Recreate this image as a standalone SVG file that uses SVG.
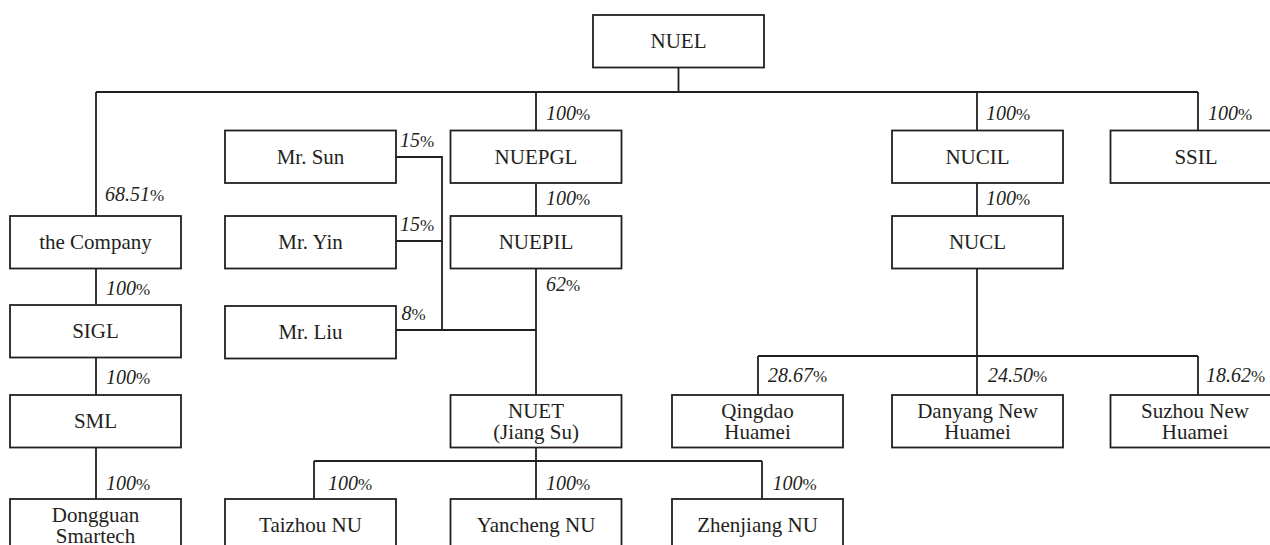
<svg xmlns="http://www.w3.org/2000/svg" width="1270" height="545" viewBox="0 0 1270 545">
<style>
.box{fill:#fff;stroke:#231f20;stroke-width:1.8}
.t{font-family:'Liberation Serif','Tinos','DejaVu Serif',serif;font-size:21px;fill:#231f20;text-anchor:middle}
.lbl{font-family:'Liberation Serif','Tinos','DejaVu Serif',serif;font-size:20px;font-style:italic;fill:#231f20}
.p{font-size:17px;font-style:normal}
#connectors path{fill:none;stroke:#231f20;stroke-width:1.8}
</style>
<rect width="1270" height="545" fill="#fff"/>
<g id="connectors">
<path d="M678.5,67V92M96,92H1198M96,92V216M536,92V130.5M977,92V130.5M1198,92V130.5"/>
<path d="M536,183V216M977,183V216"/>
<path d="M96,268.5V305M96,357.5V395M96,447.5V499"/>
<path d="M396,157H442V330M396,241H442M396,330H536"/>
<path d="M536,268.5V395M536,447.5V499M314,461H762M314,461V499M762,461V499"/>
<path d="M977,268.5V395M758,356H1198M758,356V395M1198,356V395"/>
</g>
<g id="NUEL"><rect class="box" x="593" y="15" width="171" height="52.5"/><text class="t" x="678.5" y="48">NUEL</text></g>
<g id="the-company"><rect class="box" x="10" y="216" width="171" height="52.5"/><text class="t" x="95.5" y="249">the Company</text></g>
<g id="mr-sun"><rect class="box" x="225" y="130.5" width="171" height="52.5"/><text class="t" x="310.5" y="163.5">Mr. Sun</text></g>
<g id="NUEPGL"><rect class="box" x="450.5" y="130.5" width="171" height="52.5"/><text class="t" x="536" y="163.5">NUEPGL</text></g>
<g id="NUCIL"><rect class="box" x="892" y="130.5" width="171" height="52.5"/><text class="t" x="977.5" y="163.5">NUCIL</text></g>
<g id="SSIL"><rect class="box" x="1110.5" y="130.5" width="171" height="52.5"/><text class="t" x="1196" y="163.5">SSIL</text></g>
<g id="mr-yin"><rect class="box" x="225" y="216" width="171" height="52.5"/><text class="t" x="310.5" y="249">Mr. Yin</text></g>
<g id="NUEPIL"><rect class="box" x="450.5" y="216" width="171" height="52.5"/><text class="t" x="536" y="249">NUEPIL</text></g>
<g id="NUCL"><rect class="box" x="892" y="216" width="171" height="52.5"/><text class="t" x="977.5" y="249">NUCL</text></g>
<g id="SIGL"><rect class="box" x="10" y="305" width="171" height="52.5"/><text class="t" x="95.5" y="338">SIGL</text></g>
<g id="mr-liu"><rect class="box" x="225" y="306" width="171" height="52.5"/><text class="t" x="310.5" y="339">Mr. Liu</text></g>
<g id="SML"><rect class="box" x="10" y="395" width="171" height="52.5"/><text class="t" x="95.5" y="428">SML</text></g>
<g id="NUET"><rect class="box" x="450.5" y="395" width="171" height="52.5"/><text class="t" x="536" y="417.7">NUET</text><text class="t" x="536" y="439.3">(Jiang Su)</text></g>
<g id="qingdao-huamei"><rect class="box" x="672" y="395" width="171" height="52.5"/><text class="t" x="757.5" y="417.7">Qingdao</text><text class="t" x="757.5" y="439.3">Huamei</text></g>
<g id="danyang-new-huamei"><rect class="box" x="892" y="395" width="171" height="52.5"/><text class="t" x="977.5" y="417.7">Danyang New</text><text class="t" x="977.5" y="439.3">Huamei</text></g>
<g id="suzhou-new-huamei"><rect class="box" x="1110.5" y="395" width="171" height="52.5"/><text class="t" x="1195" y="417.7">Suzhou New</text><text class="t" x="1195" y="439.3">Huamei</text></g>
<g id="dongguan-smartech"><rect class="box" x="10" y="499" width="171" height="52.5"/><text class="t" x="95.5" y="522">Dongguan</text><text class="t" x="95.5" y="542.5">Smartech</text></g>
<g id="taizhou-nu"><rect class="box" x="225" y="499" width="171" height="52.5"/><text class="t" x="310.5" y="532">Taizhou NU</text></g>
<g id="yancheng-nu"><rect class="box" x="450.5" y="499" width="171" height="52.5"/><text class="t" x="536" y="532">Yancheng NU</text></g>
<g id="zhenjiang-nu"><rect class="box" x="672" y="499" width="171" height="52.5"/><text class="t" x="757.5" y="532">Zhenjiang NU</text></g>
<g id="labels">
<text class="lbl" x="105" y="200.5">68.51<tspan class="p">%</tspan></text>
<text class="lbl" x="546" y="120">100<tspan class="p">%</tspan></text>
<text class="lbl" x="986" y="120">100<tspan class="p">%</tspan></text>
<text class="lbl" x="1208" y="120">100<tspan class="p">%</tspan></text>
<text class="lbl" x="546" y="205">100<tspan class="p">%</tspan></text>
<text class="lbl" x="986" y="205">100<tspan class="p">%</tspan></text>
<text class="lbl" x="400" y="146.5">15<tspan class="p">%</tspan></text>
<text class="lbl" x="400" y="231">15<tspan class="p">%</tspan></text>
<text class="lbl" x="401.5" y="319.5">8<tspan class="p">%</tspan></text>
<text class="lbl" x="546" y="290.5">62<tspan class="p">%</tspan></text>
<text class="lbl" x="106" y="295">100<tspan class="p">%</tspan></text>
<text class="lbl" x="106" y="384">100<tspan class="p">%</tspan></text>
<text class="lbl" x="106" y="489.5">100<tspan class="p">%</tspan></text>
<text class="lbl" x="768" y="382">28.67<tspan class="p">%</tspan></text>
<text class="lbl" x="988" y="382">24.50<tspan class="p">%</tspan></text>
<text class="lbl" x="1206" y="382">18.62<tspan class="p">%</tspan></text>
<text class="lbl" x="328" y="489.5">100<tspan class="p">%</tspan></text>
<text class="lbl" x="546" y="489.5">100<tspan class="p">%</tspan></text>
<text class="lbl" x="772.5" y="489.5">100<tspan class="p">%</tspan></text>
</g>
</svg>
